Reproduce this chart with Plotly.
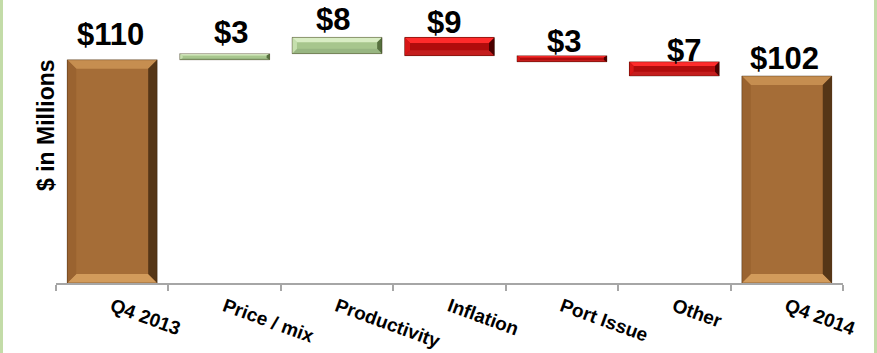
import plotly.graph_objects as go

# Bridge from Q4 2013 to Q4 2014, $ in millions
categories = ["Q4 2013", "Price / mix", "Productivity", "Inflation", "Port Issue", "Other", "Q4 2014"]
values = [110, 3, 8, -9, -3, -7, 102]
measures = ["total", "relative", "relative", "relative", "relative", "relative", "total"]
labels = ["$110", "$3", "$8", "$9", "$3", "$7", "$102"]

# label nudges in pixels (x, y)
label_dx = [-2, 6, -4, -6, 2, 10, -2]
label_dy = [6, 2, -2, -5, -5, -8, -2]

W, H = 877, 353
ML, MR, MT, MB = 56, 34, 10, 70
PW, PH = W - ML - MR, H - MT - MB
YMAX = 134.5
XR = (-0.5, len(categories) - 0.5)
px_x = PW / (XR[1] - XR[0])
px_y = PH / YMAX

# palette: face, top, bottom, left, right
PAL = {
    "total": ("#a56d37", "#c68e50", "#d29b5b", "#9a6330", "#553617"),
    "up": ("#a7c68d", "#d9edc4", "#98b682", "#c6dfae", "#56703e"),
    "down": ("#b00c0c", "#ff2b2b", "#c41e1e", "#d81616", "#4a0000"),
}

# running totals -> bar bases and heights
bases, heights, kinds = [], [], []
run = 0
for v, m in zip(values, measures):
    if m == "total":
        bases.append(0)
        heights.append(v)
        kinds.append("total")
        run = v
    else:
        if v >= 0:
            bases.append(run)
            kinds.append("up")
        else:
            bases.append(run + v)
            kinds.append("down")
        heights.append(abs(v))
        run += v

BW = 0.8
fig = go.Figure()
fig.add_trace(go.Bar(
    x=list(range(len(categories))), y=heights, base=bases, width=BW,
    marker=dict(color=[PAL[k][0] for k in kinds], line=dict(width=0)),
    hoverinfo="skip", showlegend=False,
))
# helper trace that carries the category labels axis
fig.add_trace(go.Scatter(
    x=list(range(len(categories))), y=[0] * len(categories), xaxis="x2",
    mode="markers", marker=dict(opacity=0), hoverinfo="skip", showlegend=False,
))

shapes = []
for i, (b0, h, k) in enumerate(zip(bases, heights, kinds)):
    face, top, bot, left, right = PAL[k]
    x0, x1 = i - BW / 2, i + BW / 2
    y0, y1 = b0, b0 + h
    hpx = h * px_y
    bv = min(9.0, 0.3 * hpx)
    bh = min(10.0, max(3.0, bv))
    bx, by = bh / px_x, bv / px_y
    polys = [
        (top, [(x0, y1), (x1, y1), (x1 - bx, y1 - by), (x0 + bx, y1 - by)]),
        (bot, [(x0, y0), (x1, y0), (x1 - bx, y0 + by), (x0 + bx, y0 + by)]),
        (left, [(x0, y0), (x0, y1), (x0 + bx, y1 - by), (x0 + bx, y0 + by)]),
        (right, [(x1, y0), (x1, y1), (x1 - bx, y1 - by), (x1 - bx, y0 + by)]),
    ]
    for col, pts in polys:
        path = "M " + " L ".join(f"{px},{py}" for px, py in pts) + " Z"
        shapes.append(dict(type="path", path=path, xref="x", yref="y",
                           fillcolor=col, line=dict(width=0), layer="above"))
    shapes.append(dict(type="rect", xref="x", yref="y", x0=x0, x1=x1, y0=y0, y1=y1,
                       line=dict(color="rgba(40,20,0,0.45)", width=0.8), layer="above"))

# light green frame edges
for xp in (1.5, 875.5):
    xx = (xp - ML) / PW
    shapes.append(dict(type="line", xref="paper", yref="paper", x0=xx, x1=xx,
                       y0=-MB / PH, y1=1 + MT / PH, line=dict(color="#c3dca8", width=3)))

annotations = []
for i, (b0, h, t) in enumerate(zip(bases, heights, labels)):
    annotations.append(dict(
        x=i, y=b0 + h, xref="x", yref="y", text=t, showarrow=False,
        yanchor="bottom", xanchor="center", xshift=label_dx[i], yshift=label_dy[i],
        font=dict(family="Liberation Sans, Arial", size=31, color="#000000", weight="bold"),
    ))
annotations.append(dict(
    x=(31 - ML) / PW, y=1 - (125 - MT) / PH, xref="paper", yref="paper",
    text="$ in Millions", textangle=-90, showarrow=False,
    font=dict(family="Liberation Sans, Arial", size=23, color="#000000", weight="bold"),
))

fig.update_layout(
    width=W, height=H, margin=dict(l=ML, r=MR, t=MT, b=MB, autoexpand=False),
    paper_bgcolor="#ffffff", plot_bgcolor="#ffffff",
    bargap=0, shapes=shapes, annotations=annotations,
    xaxis=dict(range=list(XR), tickmode="array",
               tickvals=[j - 0.5 for j in range(len(categories) + 1)],
               ticktext=[""] * (len(categories) + 1),
               ticks="outside", ticklen=6, tickcolor="#a6a6a6", tickwidth=1.5,
               showline=True, linecolor="#a6a6a6", linewidth=2, automargin=False,
               showgrid=False, zeroline=False, fixedrange=True),
    xaxis2=dict(range=list(XR), overlaying="x", anchor="y", side="bottom",
                tickmode="array", tickvals=list(range(len(categories))), ticktext=categories,
                tickangle=20, ticks="", showline=False, showgrid=False, zeroline=False,
                ticklabelstandoff=8, automargin=False,
                tickfont=dict(family="Liberation Sans, Arial", size=19, color="#000000", weight="bold")),
    yaxis=dict(range=[0, YMAX], visible=False, showgrid=False, zeroline=False, automargin=False),
)

fig.write_html("out.html")
